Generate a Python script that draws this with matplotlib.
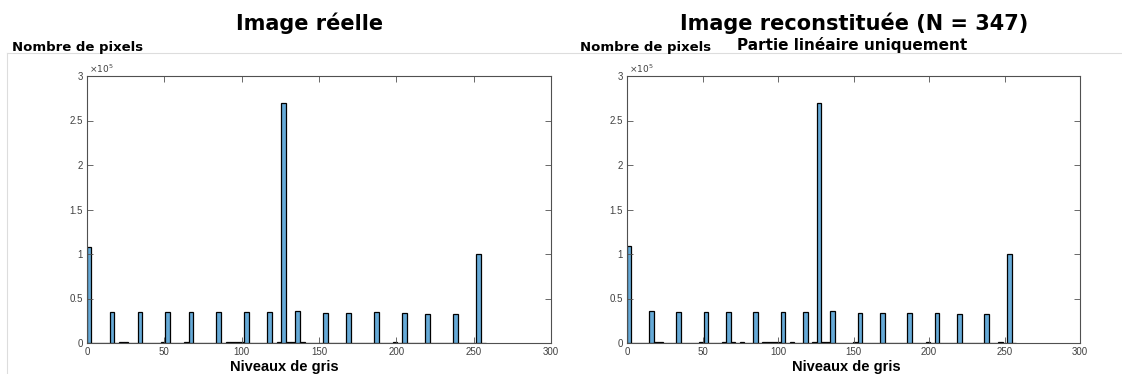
import numpy as np
import matplotlib
matplotlib.use("Agg")
import matplotlib.pyplot as plt
from matplotlib.lines import Line2D
from matplotlib.ticker import FuncFormatter

plt.rcParams['font.family'] = ['Liberation Sans', 'DejaVu Sans']

# gray levels holding the main peaks and their pixel counts
peak_levels = [0, 17, 34, 51, 68, 85, 102, 119, 127, 136, 153, 170, 187, 204, 221, 238, 254]
peak_real = [108000, 35000, 35000, 35000, 35000, 35000, 35000, 35000, 270000,
             36000, 34000, 34000, 34000, 34000, 33000, 33000, 100000]
peak_rec = [109000, 36000, 35000, 35000, 35000, 35000, 35000, 35000, 270000,
            36000, 34000, 34000, 34000, 34000, 33000, 33000, 100000]

# small residual counts between the peaks
low_levels_real = [12, 21, 24, 27, 30, 38, 41, 44, 50, 55, 58, 61, 64, 70, 73, 76, 79,
                   82, 88, 90, 93, 96, 99, 105, 108, 111, 114, 124, 130, 133, 140,
                   143, 146, 149, 156, 159, 162, 183, 186, 192, 195, 198, 201, 247]
low_counts_real = [500, 1500, 1500, 300, 200, 200, 200, 200, 800, 200, 200, 200, 900, 200,
                   200, 200, 200, 200, 200, 1400, 1500, 1500, 1400, 200, 200, 200, 200,
                   1500, 1600, 1500, 600, 200, 200, 200, 200, 200, 500, 300, 300, 200,
                   200, 600, 200, 400]
low_levels_rec = [9, 12, 20, 23, 27, 30, 38, 41, 44, 50, 55, 58, 61, 64, 70, 75, 79,
                  82, 90, 93, 96, 99, 105, 110, 114, 124, 130, 133, 140, 143, 146, 150,
                  156, 159, 166, 183, 186, 192, 195, 198, 201, 247]
low_counts_rec = [300, 400, 1500, 1400, 300, 200, 200, 200, 200, 700, 200, 200, 200, 1000,
                  1100, 800, 200, 200, 1200, 1300, 1300, 1200, 200, 600, 200, 1300, 1300,
                  1400, 200, 200, 200, 900, 200, 200, 400, 200, 200, 300, 300, 1000, 200, 600]

edges = np.arange(-0.3, 258, 3)

face = '#66aad7'
axis_col = '#505050'
tick_col = '#404040'

fig = plt.figure(figsize=(11.22, 3.74), dpi=100)

def hist_panel(rect, levels, counts):
    ax = fig.add_axes(rect)
    ax.hist(levels, bins=edges, weights=counts, color=face, edgecolor='black', linewidth=0.9)
    ax.set_xlim(0, 300)
    ax.set_ylim(0, 300000)
    ax.set_xticks(np.arange(0, 301, 50))
    ax.set_yticks(np.arange(0, 300001, 50000))
    ax.yaxis.set_major_formatter(FuncFormatter(lambda v, _: f"{v / 1e5:g}"))
    ax.tick_params(direction='in', length=4, width=0.6, top=True, right=True,
                   labelsize=7, labelcolor=tick_col, color=axis_col, pad=3)
    for s in ax.spines.values():
        s.set_color(axis_col)
        s.set_linewidth(0.8)
    ax.text(0.005, 1.005, r'$\times10^5$', transform=ax.transAxes, fontsize=6.5,
            color=tick_col, ha='left', va='bottom')
    return ax

W, H = 1122, 374
def fx(x):
    return x / W
def fy(y):
    return 1 - y / H

# faint panel border behind the y-axis label
fig.add_artist(Line2D([fx(7), 1], [fy(53), fy(53)], color='#dddddd', linewidth=0.8))
fig.add_artist(Line2D([fx(7), fx(7)], [fy(53), 0], color='#dddddd', linewidth=0.8))

levels_real = peak_levels + low_levels_real
counts_real = peak_real + low_counts_real
levels_rec = peak_levels + low_levels_rec
counts_rec = peak_rec + low_counts_rec

ax1 = hist_panel([fx(87), fy(343), fx(464), (343 - 76) / H], levels_real, counts_real)
ax2 = hist_panel([fx(627), fy(343), fx(453), (343 - 76) / H], levels_rec, counts_rec)

bold_wide = ['DejaVu Sans']
fig.text(fx(310), fy(23), 'Image réelle', ha='center', va='center',
         fontsize=15, fontweight='bold', family=bold_wide)
fig.text(fx(854), fy(23), 'Image reconstituée (N = 347)', ha='center', va='center',
         fontsize=15, fontweight='bold', family=bold_wide)
fig.text(fx(852), fy(45), 'Partie linéaire uniquement', ha='center', va='center',
         fontsize=11, fontweight='bold', family=bold_wide)

fig.text(fx(12), fy(48), 'Nombre de pixels', ha='left', va='center',
         fontsize=9.5, fontweight='bold', family=bold_wide)
fig.text(fx(580), fy(48), 'Nombre de pixels', ha='left', va='center',
         fontsize=9.5, fontweight='bold', family=bold_wide)

fig.text(fx(284), fy(367), 'Niveaux de gris', ha='center', va='center',
         fontsize=10.5, fontweight='bold')
fig.text(fx(846), fy(367), 'Niveaux de gris', ha='center', va='center',
         fontsize=10.5, fontweight='bold')

fig.savefig('out.png', dpi=100, facecolor='white')
